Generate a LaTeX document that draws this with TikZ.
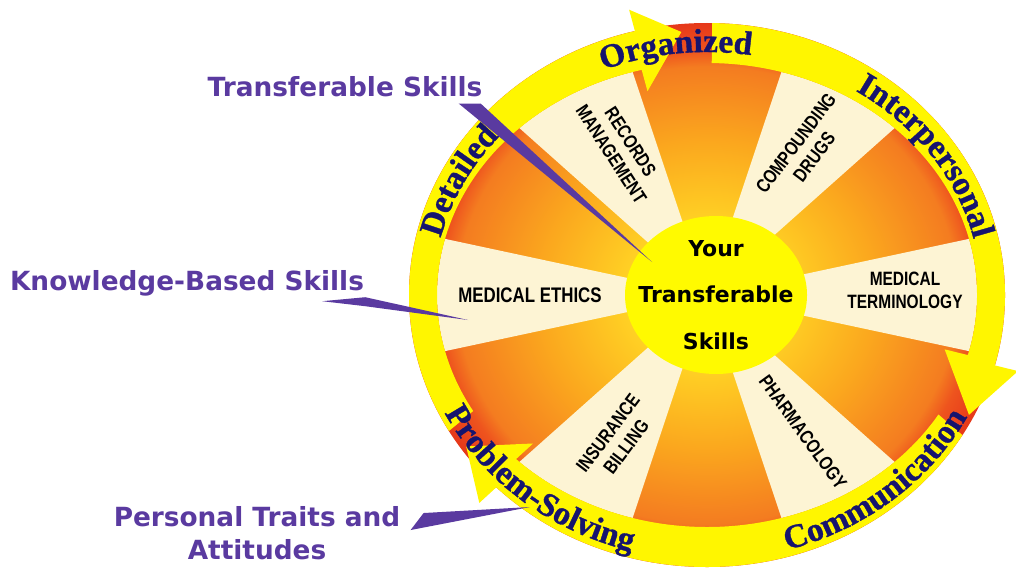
\documentclass[tikz,border=0pt]{standalone}
\usepackage{fontspec}
\setmainfont{Liberation Sans}
\newfontfamily\bannerfont{Liberation Serif}[BoldFeatures={FakeBold=1}]
\newfontfamily\calloutfont{DejaVu Sans}
\newfontfamily\spokefont{Liberation Sans}[FakeStretch=0.8]
\usetikzlibrary{positioning}
\usetikzlibrary{calc,decorations.text}

\definecolor{sunA}{RGB}{255,208,36}
\definecolor{sunB}{RGB}{251,168,30}
\definecolor{sunC}{RGB}{244,124,32}
\definecolor{sunD}{RGB}{238,84,30}
\definecolor{sunE}{RGB}{230,56,26}
\definecolor{cream}{RGB}{253,244,212}
\definecolor{ringyellow}{RGB}{255,246,0}
\definecolor{hubyellow}{RGB}{255,250,0}
\definecolor{navy1}{RGB}{22,20,110}
\definecolor{violet1}{RGB}{90,58,160}

\pgfdeclareradialshading{sunburst}{\pgfpoint{0bp}{0bp}}{color(0bp)=(sunA); color(7bp)=(sunA);
  color(14bp)=(sunB); color(21bp)=(sunC); color(22.5bp)=(sunD); color(25bp)=(sunE); color(50bp)=(sunE)}

\newcommand\bannerface{\bannerfont\bfseries\fontsize{19}{19}\selectfont}

\tikzset{
  callout/.style={font=\calloutfont\bfseries\fontsize{15}{18.7}\selectfont, text=violet1, align=center, inner sep=0pt},
  pointer/.style={fill=violet1},
  spoke/.style={font=\spokefont\bfseries\fontsize{11}{13}\selectfont, text=black, align=center, inner sep=0pt},
  hubtext/.style={align=center, inner sep=0pt, font=\calloutfont\bfseries\fontsize{12.5}{26.6}\selectfont},
  band/.style={fill=ringyellow},
  banner/.style={decorate, decoration={text along path, text align=center, text color=navy1}},
}

\begin{document}
\begin{tikzpicture}[x=0.02cm, y=0.02cm]
  \useasboundingbox (0,0) rectangle (1016,569);
  \fill[white] (0,0) rectangle (1016,569);

  \begin{scope}[shift={(707,274)}]
    \shade[shading=sunburst] (0,0) ellipse[x radius=298, y radius=272];
    \foreach \a in {0,60,...,300}
      \fill[cream] (0,0) -- ({\a-14}:270 and 232)
        arc[start angle=\a-14, end angle=\a+14, x radius=270, y radius=232] -- cycle;
    % three arrow bands round the wheel
    \foreach \from/\upto/\head in {210/104/95, 89/-15/-27, -31/-135/-145}
      \fill[band] (\from:298 and 272) arc[start angle=\from, end angle=\upto, x radius=298, y radius=272]
        -- (\upto:322 and 294) -- (\head:294 and 264) -- (\upto:246 and 210)
        -- (\upto:270 and 232) arc[start angle=\upto, end angle=\from, x radius=270, y radius=232] -- cycle;
    \path[banner, decoration={text={|\bannerface|Organized}}]
      (116:275 and 243) arc[start angle=116, end angle=77, x radius=275, y radius=243];
    \path[banner, decoration={text={|\bannerface|Interpersonal}}]
      (62:274 and 243) arc[start angle=62, end angle=8, x radius=274, y radius=243];
    \path[banner, decoration={text={|\bannerface|Detailed}}]
      (172:274 and 243) arc[start angle=172, end angle=134, x radius=274, y radius=243];
    \path[banner, decoration={text={|\bannerface|Communication}}]
      (-80:293 and 265) arc[start angle=-80, end angle=-21, x radius=293, y radius=265];
    \path[banner, decoration={text={|\bannerface|Problem-Solving}}]
      (-160:293 and 265) arc[start angle=-160, end angle=-99, x radius=293, y radius=265];
  \end{scope}

  \fill[hubyellow] (716,274) ellipse[x radius=91, y radius=79];
  \node[hubtext] (hub) at (716,274) {Your\\Transferable\\Skills};

  \node[spoke, font=\spokefont\bfseries\fontsize{12}{13}\selectfont] (ethics) at (530,274) {MEDICAL ETHICS};
  \node[spoke] (terms) at (905,279) {MEDICAL\\TERMINOLOGY};
  \node[spoke, rotate=-57] (records) at (621,421) {RECORDS\\MANAGEMENT};
  \node[spoke, rotate=53] (compounding) at (805,419) {COMPOUNDING\\DRUGS};
  \node[spoke, rotate=-54] (pharma) at (803,137) {PHARMACOLOGY};
  \node[spoke, rotate=53] (billing) at (617,129) {INSURANCE\\BILLING};

  \node[callout] (transfer) at (345,482) {Transferable Skills};
  \node[callout] (knowledge) at (187,286) {Knowledge-Based Skills};
  \node[callout] (traits) at (257,36) {Personal Traits and\\Attitudes};

  \coordinate (transfer tip) at (652,307);
  \coordinate (knowledge tip) at (468,249);
  \coordinate (traits tip) at (530,62);
  \fill[pointer] ($(transfer.south east)+(-24,-6)$) -- ($(transfer.south east)+(-2,-6)$) -- (transfer tip) -- cycle;
  \fill[pointer] ($(knowledge.south east)+(-42,-5)$) -- ($(knowledge.south east)+(1,-1)$)
    -- (knowledge tip) -- ($(knowledge.south east)+(1,-10)$) -- cycle;
  \fill[pointer] ($(traits.north east)+(23,-7)$) -- (traits tip) -- ($(traits.north east)+(10,-24)$) -- cycle;
\end{tikzpicture}
\end{document}
